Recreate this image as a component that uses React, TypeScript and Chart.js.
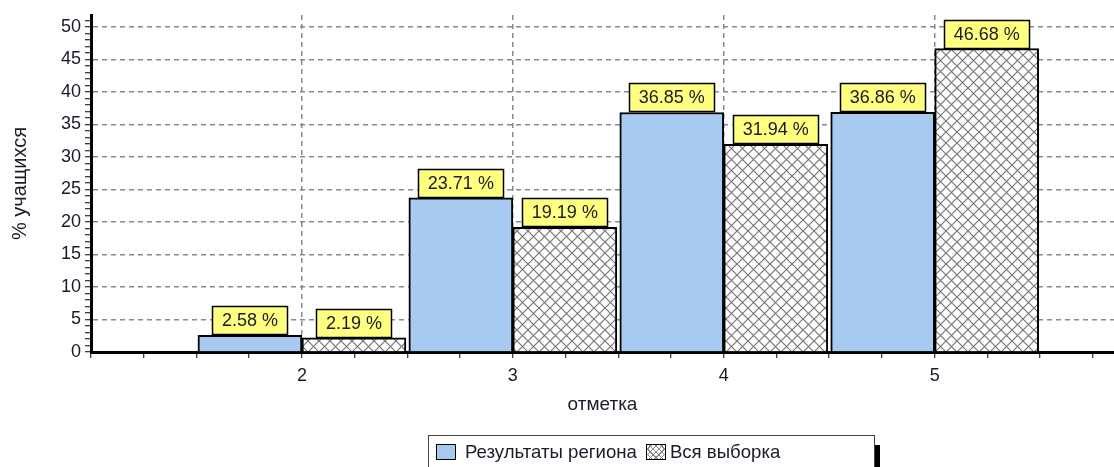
import React, { useEffect, useRef } from 'react';
import { Chart, registerables } from 'chart.js';

Chart.register(...registerables);

// ---- data ----
const categories = [2, 3, 4, 5];
const regionValues = [2.58, 23.71, 36.85, 36.86];
const sampleValues = [2.19, 19.19, 31.94, 46.68];
const seriesNames = ['Результаты региона', 'Вся выборка'];
const yMajorTicks = [0, 5, 10, 15, 20, 25, 30, 35, 40, 45, 50];
const xTitle = 'отметка';
const yTitle = '% учащихся';

const FONT = '"Liberation Sans", Arial, sans-serif';
const TEXT = '#1a1a28';
const BLUE = '#A6CAF0';
const LABEL_BG = '#FFFF80';
const GRID = '#8a8a8a';

function makeHatch(ctx: CanvasRenderingContext2D): CanvasPattern | string {
  const s = 11;
  const c = document.createElement('canvas');
  c.width = s;
  c.height = s;
  const g = c.getContext('2d');
  if (!g) return '#fff';
  g.fillStyle = '#ffffff';
  g.fillRect(0, 0, s, s);
  g.strokeStyle = '#777777';
  g.lineWidth = 1.2;
  g.beginPath();
  g.moveTo(0, 0);
  g.lineTo(s, s);
  g.moveTo(s, 0);
  g.lineTo(0, s);
  g.stroke();
  return ctx.createPattern(c, 'repeat') || '#fff';
}

const barLabelPlugin = {
  id: 'barLabels',
  afterDatasetsDraw(chart: any) {
    const ctx: CanvasRenderingContext2D = chart.ctx;
    ctx.save();
    ctx.font = `18px ${FONT}`;
    chart.data.datasets.forEach((ds: any, di: number) => {
      const meta = chart.getDatasetMeta(di);
      meta.data.forEach((bar: any, i: number) => {
        const v = ds.data[i].y as number;
        const text = v.toFixed(2) + ' %';
        const w = Math.round(ctx.measureText(text).width + 19);
        const h = 28;
        const x = Math.round(bar.x - w / 2) + 0.5;
        const y = Math.round(bar.y - h) - 0.5;
        ctx.fillStyle = LABEL_BG;
        ctx.fillRect(x, y, w, h);
        ctx.strokeStyle = '#000';
        ctx.lineWidth = 1.5;
        ctx.strokeRect(x, y, w, h);
        ctx.fillStyle = TEXT;
        ctx.textAlign = 'center';
        ctx.textBaseline = 'middle';
        ctx.fillText(text, bar.x, y + h / 2 + 1);
      });
    });
    ctx.restore();
  },
};

function App() {
  const canvasRef = useRef<HTMLCanvasElement | null>(null);

  useEffect(() => {
    const canvas = canvasRef.current;
    if (!canvas) return;
    const ctx = canvas.getContext('2d');
    if (!ctx) return;
    const hatch = makeHatch(ctx);

    const chart = new Chart(ctx, {
      type: 'bar',
      data: {
        datasets: [
          {
            label: seriesNames[0],
            data: categories.map((c, i) => ({ x: c, y: regionValues[i] })),
            backgroundColor: BLUE,
            borderColor: '#000',
            borderWidth: 2,
            barThickness: 104,
          },
          {
            label: seriesNames[1],
            data: categories.map((c, i) => ({ x: c, y: sampleValues[i] })),
            backgroundColor: hatch as any,
            borderColor: '#000',
            borderWidth: 2,
            barThickness: 104,
          },
        ],
      },
      options: {
        responsive: false,
        animation: false,
        layout: { padding: { left: 0, right: 0, top: 15, bottom: 51 } },
        plugins: {
          legend: { display: false },
          tooltip: { enabled: false },
        },
        scales: {
          x: {
            type: 'linear',
            min: 1,
            max: 5.85,
            offset: false,
            afterFit: (scale: any) => {
              scale.height = 64;
            },
            ticks: {
              stepSize: 0.25,
              autoSkip: false,
              includeBounds: false,
              maxRotation: 0,
              minRotation: 0,
              padding: 7,
              color: TEXT,
              font: { family: FONT, size: 18 },
              callback: (v: any) => (categories.includes(Number(v)) ? String(v) : ''),
            },
            grid: {
              offset: false,
              drawOnChartArea: true,
              lineWidth: 1.5,
              color: (c: any) =>
                c.tick && categories.includes(c.tick.value) ? GRID : 'rgba(0,0,0,0)',
              tickColor: '#000',
              tickLength: 6,
              tickWidth: 1,
            },
            border: { display: true, color: '#000', width: 3, dash: [5, 4] },
            title: {
              display: true,
              text: xTitle,
              color: TEXT,
              font: { family: FONT, size: 19 },
              padding: { top: 2, bottom: 0 },
            },
          },
          y: {
            type: 'linear',
            min: 0,
            max: 51.85,
            afterFit: (scale: any) => {
              scale.width = 91;
            },
            ticks: {
              stepSize: 1,
              autoSkip: false,
              includeBounds: false,
              padding: 4,
              color: TEXT,
              font: { family: FONT, size: 18 },
              callback: (v: any) => (yMajorTicks.includes(Number(v)) ? String(v) : ''),
            },
            grid: {
              lineWidth: 1.5,
              color: (c: any) =>
                c.tick && yMajorTicks.includes(c.tick.value) && c.tick.value > 0
                  ? GRID
                  : 'rgba(0,0,0,0)',
              tickColor: '#000',
              tickLength: 6,
              tickWidth: 1,
            },
            border: { display: true, color: '#000', width: 3, dash: [5, 4] },
            title: {
              display: true,
              text: yTitle,
              color: TEXT,
              font: { family: FONT, size: 20 },
              padding: { top: 8, bottom: 0 },
            },
          },
        },
      },
      plugins: [barLabelPlugin],
    } as any);

    return () => {
      chart.destroy();
    };
  }, []);

  const swatch: React.CSSProperties = {
    display: 'inline-block',
    width: 20,
    height: 16,
    boxSizing: 'border-box',
    border: '1px solid #000',
    verticalAlign: 'top',
    flex: '0 0 auto',
  };

  return (
    <div
      style={{
        position: 'absolute',
        left: 0,
        top: 0,
        width: 1114,
        height: 467,
        overflow: 'hidden',
        background: '#fff',
      }}
    >
      <canvas ref={canvasRef} width={1114} height={467} style={{ display: 'block' }} />
      <div
        style={{
          position: 'absolute',
          left: 428,
          top: 435,
          width: 447,
          height: 42,
          boxSizing: 'border-box',
          border: '1px solid #444',
          background: '#fff',
          boxShadow: '5px 10px 0 #000',
          font: `18.6px ${FONT}`,
          color: TEXT,
          whiteSpace: 'nowrap',
        }}
      >
        <div style={{ position: 'absolute', left: 7, top: 8, display: 'flex', alignItems: 'center' }}>
          <span style={{ ...swatch, background: BLUE }} />
          <span style={{ marginLeft: 9, lineHeight: '16px' }}>{seriesNames[0]}</span>
          <span
            style={{
              ...swatch,
              marginLeft: 9,
              backgroundImage:
                'repeating-linear-gradient(45deg, transparent 0 3px, #888 3px 4px), repeating-linear-gradient(-45deg, transparent 0 3px, #888 3px 4px)',
              backgroundColor: '#fff',
            }}
          />
          <span style={{ marginLeft: 4, lineHeight: '16px' }}>{seriesNames[1]}</span>
        </div>
      </div>
    </div>
  );
}

export default App;
